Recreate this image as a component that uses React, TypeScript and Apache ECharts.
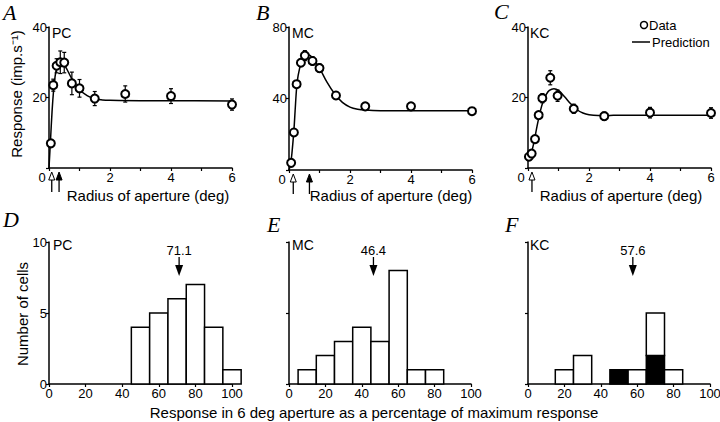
import { useEffect, useRef } from 'react';
import * as echarts from 'echarts';

// ---- Panel A (PC) ----
const pcX = [0.06, 0.14, 0.25, 0.37, 0.5, 0.75, 1, 1.5, 2.5, 4, 6];
const pcY = [7, 23.5, 29, 30, 29.9, 24, 22.6, 19.7, 21, 20.4, 18];
const pcErr = [0.4, 1.7, 2, 3.2, 2.9, 3.2, 2.5, 2, 2.3, 2.1, 1.6];
const pcFitX = [0, 0.05, 0.1, 0.15, 0.2, 0.25, 0.3, 0.4, 0.5, 0.6, 0.75, 1, 1.25, 1.5, 1.75, 2, 3, 4, 6];
const pcFitY = [0, 8, 16, 22, 26, 28.3, 29.5, 30, 29.3, 27.8, 25.3, 22.3, 20.5, 19.6, 19.3, 19.2, 19.1, 19.1, 19];
const pcArrows = [[0.09, 0], [0.33, 1]];

// ---- Panel B (MC) ----
const mcX = [0.07, 0.16, 0.25, 0.39, 0.52, 0.77, 1, 1.54, 2.5, 4, 6];
const mcY = [4, 21, 48, 60, 64, 61, 57, 41.7, 35.6, 35.6, 32.9];
const mcErr = [0.8, 1, 1.5, 2, 2.8, 2.4, 2.4, 1.9, 1.2, 1.2, 1];
const mcFitX = [0, 0.05, 0.1, 0.16, 0.2, 0.25, 0.3, 0.4, 0.5, 0.6, 0.7, 0.8, 1, 1.25, 1.5, 1.75, 2, 2.25, 2.5, 3, 6];
const mcFitY = [0, 3, 10, 22, 33, 46, 53, 60, 63.5, 64.5, 64, 62, 57, 49, 42.5, 37.8, 35.2, 34, 33.5, 33.2, 33.1];
const mcArrows = [[0.14, 0], [0.67, 1]];

// ---- Panel C (KC) ----
const kcX = [0.03, 0.12, 0.23, 0.35, 0.47, 0.73, 0.97, 1.5, 2.5, 4, 6];
const kcY = [3.2, 4.1, 8.2, 15, 19.8, 25.6, 20.5, 16.8, 14.7, 15.7, 15.6];
const kcErr = [0.4, 0.6, 0.8, 1, 1.3, 2, 1.6, 1.3, 1.2, 1.5, 1.5];
const kcFitX = [0, 0.1, 0.2, 0.3, 0.4, 0.5, 0.6, 0.7, 0.85, 1, 1.2, 1.4, 1.6, 1.8, 2, 2.3, 2.6, 3, 6];
const kcFitY = [2.5, 4, 7.5, 12, 16, 19, 20.9, 22, 22.5, 22, 20.2, 18.2, 16.6, 15.6, 15.1, 14.9, 14.9, 15, 15];
const kcArrows = [[0.13, 0]];

// ---- Histograms ----
const binCenters = [10, 20, 30, 40, 50, 60, 70, 80, 90, 100];
const pcCounts = [0, 0, 0, 0, 4, 5, 6, 7, 4, 1];
const mcCounts = [1, 2, 3, 4, 3, 8, 1, 1, 0, 0];
const kcCounts = [0, 1, 2, 0, 1, 1, 5, 1, 0, 0];
const kcFilled = [0, 0, 0, 0, 1, 0, 2, 0, 0, 0];
const pcMean = 71.1;
const mcMean = 46.4;
const kcMean = 57.6;

const FONT = '"Liberation Sans", Arial, Helvetica, sans-serif';
const SERIF = '"Liberation Serif", "Times New Roman", serif';

function topX(idx: number) {
  return {
    type: 'value', gridIndex: idx, min: 0, max: 6, interval: 1,
    axisLine: { show: true, onZero: false, lineStyle: { color: '#000', width: 1.5 } },
    axisTick: { show: true, length: 3, lineStyle: { color: '#000', width: 1.2 } },
    splitLine: { show: false },
    axisLabel: {
      color: '#000', fontSize: 13, fontFamily: FONT, margin: 3,
      formatter: (v: number) => (v === 0 ? '{z|0}' : v % 2 === 0 ? String(v) : ''),
      rich: { z: { padding: [0, 14, 0, 0], fontSize: 13, fontFamily: FONT, color: '#000' } },
    },
  };
}
function leftY(idx: number, max: number, interval: number, showLabels: boolean) {
  return {
    type: 'value', gridIndex: idx, min: 0, max, interval,
    axisLine: { show: true, onZero: false, lineStyle: { color: '#000', width: 1.5 } },
    axisTick: { show: true, length: 3, lineStyle: { color: '#000', width: 1.2 } },
    splitLine: { show: false },
    axisLabel: {
      show: showLabels, color: '#000', fontSize: 13, fontFamily: FONT, margin: 2,
      formatter: (v: number) => (v === 0 && max !== 10 ? '' : String(v)),
    },
  };
}
function botX(idx: number) {
  return {
    type: 'value', gridIndex: idx, min: 0, max: 100, interval: 20,
    axisLine: { show: true, onZero: false, lineStyle: { color: '#000', width: 1.5 } },
    axisTick: { show: true, length: 3, lineStyle: { color: '#000', width: 1.2 } },
    splitLine: { show: false },
    axisLabel: { color: '#000', fontSize: 13, fontFamily: FONT, margin: 3 },
  };
}

function errRender(params: any, api: any) {
  const x = api.value(0), y = api.value(1), e = api.value(2);
  const t = api.coord([x, y + e]);
  const b = api.coord([x, y - e]);
  const st = { stroke: '#000', lineWidth: 1.2 };
  return {
    type: 'group', children: [
      { type: 'line', shape: { x1: t[0], y1: t[1], x2: b[0], y2: b[1] }, style: st },
      { type: 'line', shape: { x1: t[0] - 2, y1: t[1], x2: t[0] + 2, y2: t[1] }, style: st },
      { type: 'line', shape: { x1: b[0] - 2, y1: b[1], x2: b[0] + 2, y2: b[1] }, style: st },
    ],
  };
}
function histRender(params: any, api: any) {
  const c = api.value(0), n = api.value(1), base = api.value(2), black = api.value(3);
  const l = api.coord([c - 5, base + n]);
  const r = api.coord([c + 5, base]);
  return {
    type: 'rect',
    shape: { x: l[0], y: l[1], width: r[0] - l[0], height: r[1] - l[1] },
    style: { fill: black ? '#000' : '#fff', stroke: '#000', lineWidth: 1.5 },
  };
}
function apArrowRender(params: any, api: any) {
  const x = api.value(0), filled = api.value(1);
  const p = api.coord([x, 0]);
  return {
    type: 'group', children: [
      { type: 'line', shape: { x1: p[0], y1: p[1] + 12, x2: p[0], y2: p[1] + 24 }, style: { stroke: '#000', lineWidth: 1.3 } },
      { type: 'polygon', shape: { points: [[p[0], p[1] + 4], [p[0] - 3, p[1] + 12], [p[0] + 3, p[1] + 12]] },
        style: { fill: filled ? '#000' : '#fff', stroke: '#000', lineWidth: 1 } },
    ],
  };
}
function meanRender(params: any, api: any) {
  const m = api.value(0);
  const p = api.coord([m, 10]);
  return {
    type: 'group', children: [
      { type: 'text', x: p[0], y: p[1] + 8, style: { text: m.toFixed(1), fill: '#000', font: `13px ${FONT}`, align: 'center', verticalAlign: 'middle' } },
      { type: 'line', shape: { x1: p[0], y1: p[1] + 15, x2: p[0], y2: p[1] + 26 }, style: { stroke: '#000', lineWidth: 1.3 } },
      { type: 'polygon', shape: { points: [[p[0] - 4, p[1] + 23], [p[0] + 4, p[1] + 23], [p[0], p[1] + 34]] }, style: { fill: '#000' } },
    ],
  };
}

function panelSeries(idx: number, xs: number[], ys: number[], es: number[], fx: number[], fy: number[], arrows: number[][]) {
  return [
    {
      type: 'line', xAxisIndex: idx, yAxisIndex: idx, data: fx.map((x, i) => [x, fy[i]]),
      showSymbol: false, smooth: 0.35, lineStyle: { color: '#000', width: 1.5 }, z: 2, silent: true,
    },
    {
      type: 'custom', xAxisIndex: idx, yAxisIndex: idx, data: xs.map((x, i) => [x, ys[i], es[i]]),
      renderItem: errRender, encode: { x: 0, y: 1 }, clip: false, z: 3, silent: true,
    },
    {
      type: 'scatter', xAxisIndex: idx, yAxisIndex: idx, data: xs.map((x, i) => [x, ys[i]]),
      symbol: 'emptyCircle', symbolSize: 8,
      itemStyle: { color: '#000', borderColor: '#000', borderWidth: 1.5, opacity: 1 }, z: 4, silent: true,
    },
    {
      type: 'custom', xAxisIndex: idx, yAxisIndex: idx, data: arrows,
      renderItem: apArrowRender, encode: { x: 0 }, clip: false, z: 5, silent: true,
    },
  ];
}
function histSeries(idx: number, counts: number[], filled: number[] | null, mean: number) {
  const data: number[][] = [];
  binCenters.forEach((c, i) => {
    const f = filled ? filled[i] : 0;
    const w = counts[i] - f;
    if (f > 0) data.push([c, f, 0, 1]);
    if (w > 0) data.push([c, w, f, 0]);
  });
  return [
    {
      type: 'custom', xAxisIndex: idx, yAxisIndex: idx, data,
      renderItem: histRender, encode: { x: 0, y: 1 }, clip: false, z: 3, silent: true,
    },
    {
      type: 'custom', xAxisIndex: idx, yAxisIndex: idx, data: [[mean]],
      renderItem: meanRender, encode: { x: 0 }, clip: false, z: 5, silent: true,
    },
  ];
}

function txt(text: string, x: number, y: number, size: number, extra: any = {}) {
  return {
    type: 'text', x, y, ...extra,
    style: { text, fill: '#000', font: `${size}px ${FONT}`, align: 'left', verticalAlign: 'middle', ...(extra.style || {}) },
  };
}
function letter(text: string, x: number, y: number) {
  return {
    type: 'text', x, y,
    style: { text, fill: '#000', font: `italic 22px ${SERIF}`, lineHeight: 15, align: 'left', verticalAlign: 'middle' },
  };
}

export default function App() {
  const ref = useRef<HTMLDivElement>(null);
  useEffect(() => {
    if (!ref.current) return;
    const chart = echarts.init(ref.current, null, { renderer: 'svg' });
    const option: any = {
      animation: false,
      backgroundColor: '#fff',
      grid: [
        { left: 49, top: 27, width: 183, height: 141, outerBoundsMode: 'none' },
        { left: 289, top: 27, width: 183, height: 143, outerBoundsMode: 'none' },
        { left: 528, top: 27, width: 183, height: 141, outerBoundsMode: 'none' },
        { left: 49, top: 242, width: 183, height: 142, outerBoundsMode: 'none' },
        { left: 289, top: 242, width: 182, height: 142, outerBoundsMode: 'none' },
        { left: 528, top: 242, width: 182, height: 142, outerBoundsMode: 'none' },
      ],
      xAxis: [topX(0), topX(1), topX(2), botX(3), botX(4), botX(5)],
      yAxis: [
        leftY(0, 40, 20, true), leftY(1, 80, 40, true), leftY(2, 40, 20, true),
        leftY(3, 10, 5, true), leftY(4, 10, 5, false), leftY(5, 10, 5, false),
      ],
      series: [
        ...panelSeries(0, pcX, pcY, pcErr, pcFitX, pcFitY, pcArrows),
        ...panelSeries(1, mcX, mcY, mcErr, mcFitX, mcFitY, mcArrows),
        ...panelSeries(2, kcX, kcY, kcErr, kcFitX, kcFitY, kcArrows),
        ...histSeries(3, pcCounts, null, pcMean),
        ...histSeries(4, mcCounts, null, mcMean),
        ...histSeries(5, kcCounts, kcFilled, kcMean),
      ],
      graphic: [
        letter('A', 3, 12), letter('B', 256, 12), letter('C', 494, 11),
        letter('D', 3, 219), letter('E', 267, 224), letter('F', 505, 224),
        txt('PC', 52, 33, 14), txt('MC', 292, 33, 14), txt('KC', 530, 33, 14),
        txt('PC', 53, 245, 14), txt('MC', 292, 245, 14), txt('KC', 530, 245, 14),
        txt('Radius of aperture (deg)', 148, 195, 15, { style: { align: 'center' } }),
        txt('Radius of aperture (deg)', 391, 195, 15, { style: { align: 'center' } }),
        txt('Radius of aperture (deg)', 621, 195, 15, { style: { align: 'center' } }),
        txt('Response in 6 deg aperture as a percentage of maximum response', 374, 412, 15, { style: { align: 'center' } }),
        txt('Response (imp.s\u207B\u00B9)', 16, 94, 15, { rotation: Math.PI / 2, style: { align: 'center' } }),
        txt('Number of cells', 22, 314, 15, { rotation: Math.PI / 2, style: { align: 'center' } }),
        { type: 'circle', shape: { cx: 644, cy: 25, r: 3.5 }, style: { fill: '#fff', stroke: '#000', lineWidth: 1.5 } },
        txt('Data', 649, 25, 13),
        { type: 'line', shape: { x1: 632, y1: 42, x2: 650, y2: 42 }, style: { stroke: '#000', lineWidth: 1.5 } },
        txt('Prediction', 652, 42, 13),
      ],
    };
    chart.setOption(option);
    return () => chart.dispose();
  }, []);
  return <div ref={ref} style={{ position: 'absolute', left: 0, top: 0, width: 720, height: 422, background: '#fff' }} />;
}
